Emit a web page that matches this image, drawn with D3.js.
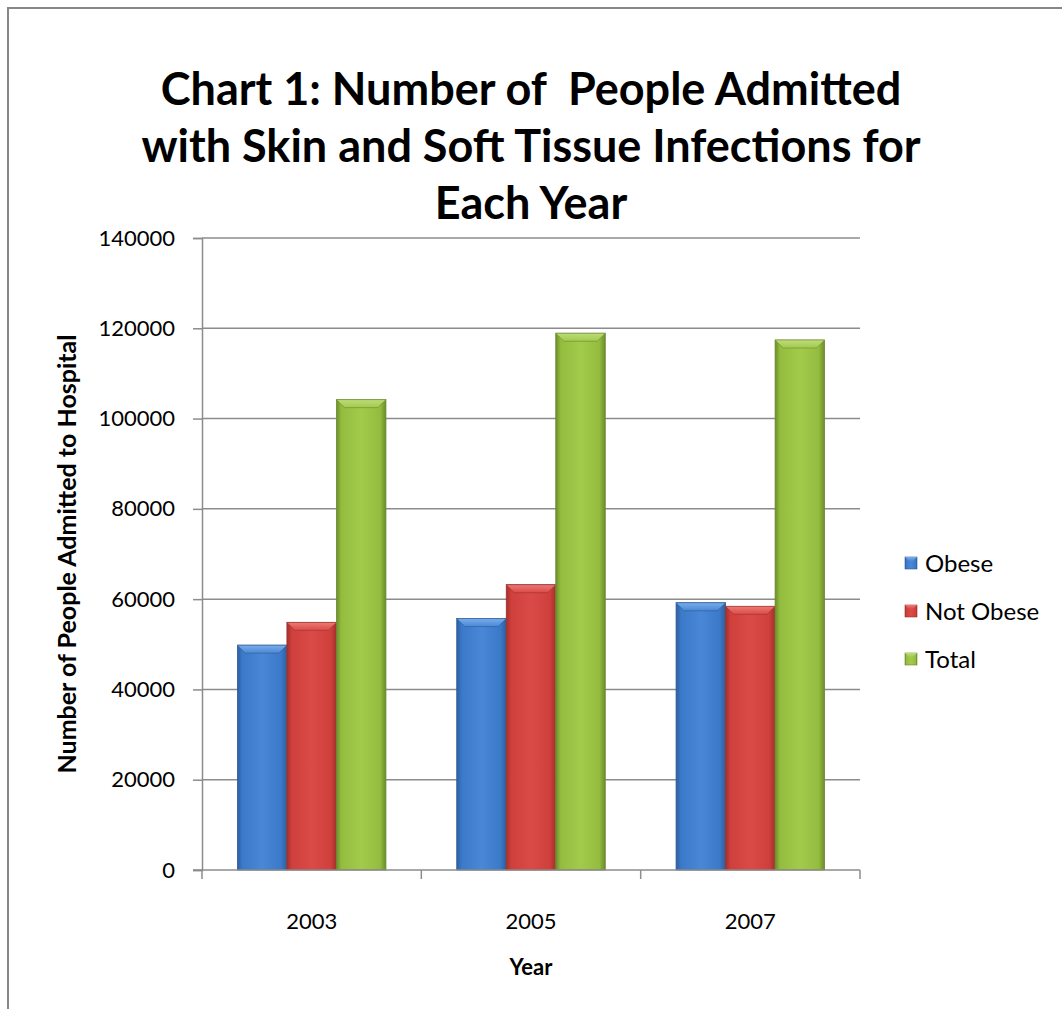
<!DOCTYPE html>
<html>
<head>
<meta charset="utf-8">
<script src="https://cdn.jsdelivr.net/npm/d3@7"></script>
<style>
  html, body { margin: 0; padding: 0; background: #fff; }
  svg { display: block; font-family: Lato, "Open Sans", sans-serif; }
</style>
</head>
<body>
<div id="chart"></div>
<script>
const years = ["2003", "2005", "2007"];
const seriesNames = ["Obese", "Not Obese", "Total"];
const obese = [49800, 55700, 59200];
const notObese = [54850, 63200, 58400];
const total = [104200, 118900, 117400];
const yTicks = [0, 20000, 40000, 60000, 80000, 100000, 120000, 140000];
const titleLines = ["Chart 1: Number of  People Admitted", "with Skin and Soft Tissue Infections for", "Each Year"];

const w = 1062, h = 1009;
const m = { l: 202, r: 860, t: 238, b: 870 };

const svg = d3.select("#chart").append("svg").attr("width", w).attr("height", h);

// outer chart border (runs off the right and bottom of the picture)
svg.append("rect").attr("x", 8).attr("y", 8).attr("width", 1070).attr("height", 1020)
  .attr("fill", "none").attr("stroke", "#878787").attr("stroke-width", 2);

const palette = {
  "Obese":     { base: "#3b79c9", light: "#4a87d6", dark: "#2d5f9f", bevel: "#79aeea", line: "#2f5d95" },
  "Not Obese": { base: "#cf403c", light: "#da4a46", dark: "#a52f2c", bevel: "#ec7a76", line: "#9a3431" },
  "Total":     { base: "#94bd3f", light: "#a2ca4b", dark: "#6c8d2a", bevel: "#bddc79", line: "#6b8a31" }
};

const defs = svg.append("defs");
seriesNames.forEach((s, i) => {
  const c = palette[s];
  const g = defs.append("linearGradient").attr("id", "body" + i).attr("x1", 0).attr("x2", 1).attr("y1", 0).attr("y2", 0);
  g.append("stop").attr("offset", "0%").attr("stop-color", c.dark);
  g.append("stop").attr("offset", "10%").attr("stop-color", c.base);
  g.append("stop").attr("offset", "50%").attr("stop-color", c.light);
  g.append("stop").attr("offset", "88%").attr("stop-color", c.base);
  g.append("stop").attr("offset", "100%").attr("stop-color", c.dark);
  const v = defs.append("linearGradient").attr("id", "bevel" + i).attr("x1", 0).attr("x2", 0).attr("y1", 0).attr("y2", 1);
  v.append("stop").attr("offset", "0%").attr("stop-color", c.bevel);
  v.append("stop").attr("offset", "100%").attr("stop-color", c.light);
});

// title
svg.append("g").selectAll("text")
  .data(titleLines)
  .join("text")
    .attr("x", 531)
    .attr("y", (d, i) => 105 + i * 57)
    .attr("text-anchor", "middle")
    .attr("font-size", 45)
    .attr("font-weight", "bold")
    .attr("fill", "#000")
    .style("white-space", "pre")
    .text(d => d);

const x0 = d3.scaleBand().domain(years).range([m.l, m.r]);
const x1 = d3.scaleBand().domain(seriesNames).range([0, x0.bandwidth()]).paddingOuter(0.715);
const y = d3.scaleLinear().domain([0, 140000]).range([m.b, m.t]);

// gridlines
svg.append("g").selectAll("line")
  .data(yTicks.filter(d => d > 0))
  .join("line")
    .attr("x1", m.l).attr("x2", m.r)
    .attr("y1", d => y(d)).attr("y2", d => y(d))
    .attr("stroke", "#8c8c8c").attr("stroke-width", 1.5);

// y axis
const yAxis = svg.append("g").attr("transform", `translate(${m.l},0)`)
  .call(d3.axisLeft(y).tickValues(yTicks).tickFormat(d3.format("d")).tickSize(9).tickPadding(18));
yAxis.select(".domain").attr("stroke", "#8c8c8c").attr("stroke-width", 1.5);
yAxis.selectAll(".tick line").attr("stroke", "#8c8c8c").attr("stroke-width", 1.5);
yAxis.selectAll("text").attr("font-size", 22).attr("fill", "#000").attr("font-family", "Lato, 'Open Sans', sans-serif");

// bars
const rows = years.map((yr, i) => ({ year: yr, values: [obese[i], notObese[i], total[i]] }));
const groups = svg.append("g").selectAll("g")
  .data(rows)
  .join("g")
    .attr("transform", d => `translate(${x0(d.year)},0)`);

const bars = groups.selectAll("g")
  .data(d => d.values.map((v, i) => ({ key: seriesNames[i], idx: i, value: v })))
  .join("g");

const bev = 8;
bars.append("rect")
  .attr("x", d => x1(d.key))
  .attr("y", d => y(d.value))
  .attr("width", x1.bandwidth())
  .attr("height", d => y(0) - y(d.value))
  .attr("fill", d => `url(#body${d.idx})`)
  .attr("stroke", d => palette[d.key].line)
  .attr("stroke-width", 0.8);

bars.append("path")
  .attr("d", d => {
    const bx = x1(d.key), bw = x1.bandwidth(), by = y(d.value);
    return `M${bx},${by}L${bx + bw},${by}L${bx + bw - bev},${by + bev}L${bx + bev},${by + bev}Z`;
  })
  .attr("fill", d => `url(#bevel${d.idx})`)
  .attr("stroke", d => palette[d.key].line)
  .attr("stroke-width", 0.6);

// x axis
const xAxis = svg.append("g").attr("transform", `translate(0,${m.b})`)
  .call(d3.axisBottom(x0).tickSize(0).tickPadding(0));
xAxis.select(".domain").remove();
xAxis.selectAll(".tick line").remove();
xAxis.selectAll("text").attr("font-size", 22).attr("fill", "#000").attr("dy", 0).attr("y", 59)
  .attr("font-family", "Lato, 'Open Sans', sans-serif");

const xBounds = [m.l, ...years.map(d => x0(d) + x0.bandwidth())];
svg.append("line").attr("x1", m.l - 9).attr("x2", m.r).attr("y1", m.b).attr("y2", m.b)
  .attr("stroke", "#8c8c8c").attr("stroke-width", 1.5);
svg.append("g").selectAll("line")
  .data(xBounds)
  .join("line")
    .attr("x1", d => d).attr("x2", d => d)
    .attr("y1", m.b).attr("y2", m.b + 9)
    .attr("stroke", "#8c8c8c").attr("stroke-width", 1.5);

// axis titles
svg.append("text")
  .attr("x", (m.l + m.r) / 2).attr("y", 975)
  .attr("text-anchor", "middle").attr("font-size", 22).attr("font-weight", "bold")
  .text("Year");

svg.append("text")
  .attr("transform", `translate(76,${(m.t + m.b) / 2}) rotate(-90)`)
  .attr("text-anchor", "middle").attr("font-size", 25).attr("font-weight", "bold")
  .text("Number of People Admitted to Hospital");

// legend
const legend = svg.append("g").selectAll("g")
  .data(seriesNames)
  .join("g")
    .attr("transform", (d, i) => `translate(905,${563 + i * 48})`);
legend.append("rect")
  .attr("x", 0).attr("y", -6).attr("width", 12).attr("height", 12)
  .attr("fill", (d, i) => `url(#body${i})`)
  .attr("stroke", d => palette[d].line).attr("stroke-width", 0.6);
legend.append("path")
  .attr("d", "M0,-6L12,-6L8,-2L4,-2Z")
  .attr("fill", (d, i) => `url(#bevel${i})`);
legend.append("text")
  .attr("x", 20).attr("y", 0).attr("dy", "0.36em")
  .attr("font-size", 24)
  .text(d => d);
</script>
</body>
</html>
